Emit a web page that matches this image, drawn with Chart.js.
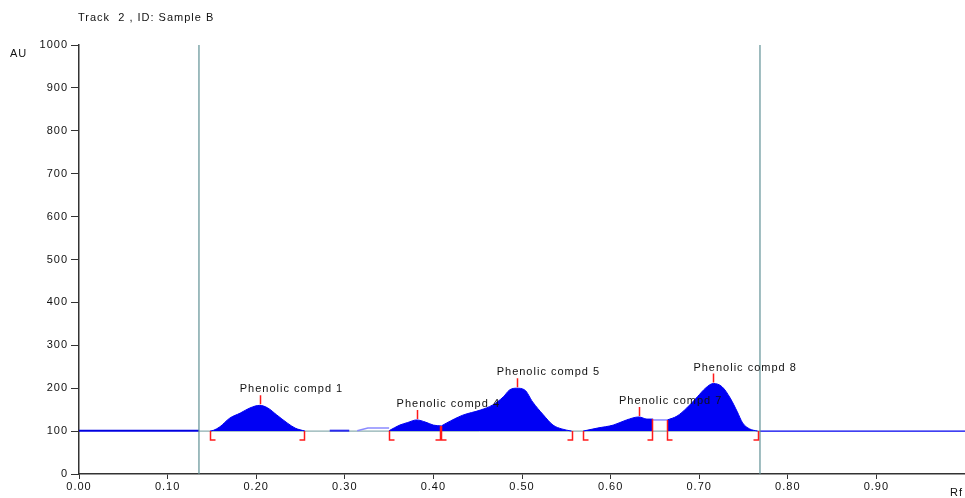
<!DOCTYPE html>
<html>
<head>
<meta charset="utf-8">
<script src="https://cdn.jsdelivr.net/npm/chart.js@4/dist/chart.umd.min.js"></script>
<style>
  html, body { margin: 0; padding: 0; background: #fff; }
  #wrap { width: 965px; height: 498px; }
</style>
</head>
<body>
<div id="wrap"><canvas id="scan" width="965" height="498"></canvas></div>
<script>
const TITLE = "Track  2 , ID: Sample B";
const BASE_AU = 100;

// densitogram traces (Rf, AU)
const leadRf = [0, 0.1354];
const leadAU = [101, 101];
const tailRf = [0.7686, 1.0];
const tailAU = [100, 100];

const peak1Rf = [0.148, 0.152, 0.159, 0.170, 0.182, 0.193, 0.204, 0.213, 0.223, 0.235, 0.244, 0.255];
const peak1AU = [100, 102, 110, 130, 142, 154, 160, 154, 138, 119, 107, 100];

const gapRf = [0.283, 0.305];
const gapAU = [101, 101];
const shoulderRf = [0.314, 0.326, 0.350];
const shoulderAU = [101, 107, 107];

const peak4Rf = [0.350, 0.362, 0.371, 0.381, 0.391, 0.400, 0.409];
const peak4AU = [101, 114, 120, 126, 121, 114, 112];

const peak5Rf = [0.409, 0.415, 0.433, 0.453, 0.467, 0.479, 0.486, 0.494, 0.503, 0.512, 0.524, 0.535, 0.545, 0.556];
const peak5AU = [112, 119, 137, 149, 161, 180, 196, 200, 196, 168, 138, 114, 105, 100];

const peak7Rf = [0.569, 0.585, 0.603, 0.618, 0.632, 0.641, 0.648];
const peak7AU = [100, 107, 114, 126, 133, 128, 128];

const bridgeRf = [0.648, 0.664];
const bridgeAU = [126, 126];

const peak8Rf = [0.664, 0.675, 0.686, 0.698, 0.707, 0.716, 0.726, 0.735, 0.743, 0.749, 0.757, 0.766];
const peak8AU = [126, 135, 154, 180, 200, 211, 203, 177, 145, 119, 105, 100];

// start / end of integration window
const windowRf = [0.1354, 0.7686];

// peak annotations
const peakLabels = ["Phenolic compd 1", "Phenolic compd 4", "Phenolic compd 5", "Phenolic compd 7", "Phenolic compd 8"];
const apexRf = [0.204, 0.381, 0.494, 0.632, 0.716];
const apexAU = [160, 126, 200, 133, 211];
const startRf = [0.148, 0.350, 0.409, 0.569, 0.664];
const startAU = [100, 101, 112, 100, 126];
const endRf = [0.255, 0.409, 0.557, 0.648, 0.7675];
const endAU = [100, 112, 100, 128, 100];

const xTicks = [0, 0.1, 0.2, 0.3, 0.4, 0.5, 0.6, 0.7, 0.8, 0.9];

const pts = (xs, ys) => xs.map((x, i) => ({ x, y: ys[i] }));

const trace = (xs, ys, color, width, order) => ({
  data: pts(xs, ys),
  borderColor: color,
  borderWidth: width,
  pointRadius: 0,
  fill: false,
  order
});

const peak = (xs, ys) => ({
  data: pts(xs, ys),
  borderColor: "#0000f4",
  backgroundColor: "#0000f4",
  borderWidth: 1,
  pointRadius: 0,
  cubicInterpolationMode: "monotone",
  fill: { value: BASE_AU },
  order: 1
});

const datasets = [
  trace([windowRf[0], windowRf[1]], [BASE_AU, BASE_AU], "#6f9a9c", 1, 5),
  trace(leadRf, leadAU, "#0000e0", 2, 2),
  trace(tailRf, tailAU, "#0000ee", 1.3, 2),
  trace(gapRf, gapAU, "#2a2af0", 2, 2),
  trace(shoulderRf, shoulderAU, "#8a8aff", 1.5, 2),
  trace(bridgeRf, bridgeAU, "#8a8aff", 1.5, 2),
  peak(peak1Rf, peak1AU),
  peak(peak4Rf, peak4AU),
  peak(peak5Rf, peak5AU),
  peak(peak7Rf, peak7AU),
  peak(peak8Rf, peak8AU),
  trace([windowRf[0], windowRf[0]], [0, 1000], "#5f9095", 1.2, 0),
  trace([windowRf[1], windowRf[1]], [0, 1000], "#5f9095", 1.2, 0)
];

const FONT = '"Liberation Sans", Arial, sans-serif';

const markers = {
  id: "markers",
  beforeDraw(chart) {
    chart.ctx.letterSpacing = "1px";
  },
  afterDatasetsDraw(chart) {
    const { ctx } = chart;
    const xs = chart.scales.x;
    const ys = chart.scales.y;
    const baseY = ys.getPixelForValue(BASE_AU);
    ctx.save();
    ctx.strokeStyle = "#ff1a1a";
    ctx.lineWidth = 1.5;
    ctx.beginPath();
    apexRf.forEach((rf, i) => {
      const px = Math.round(xs.getPixelForValue(rf)) + 0.5;
      const py = ys.getPixelForValue(apexAU[i]);
      ctx.moveTo(px, py - 1);
      ctx.lineTo(px, py - 10);
    });
    startRf.forEach((rf, i) => {
      const px = Math.round(xs.getPixelForValue(rf)) + 0.5;
      ctx.moveTo(px, ys.getPixelForValue(startAU[i]));
      ctx.lineTo(px, baseY + 9);
      ctx.lineTo(px + 5, baseY + 9);
    });
    endRf.forEach((rf, i) => {
      const px = Math.round(xs.getPixelForValue(rf)) - 0.5;
      ctx.moveTo(px, ys.getPixelForValue(endAU[i]));
      ctx.lineTo(px, baseY + 9);
      ctx.lineTo(px - 5, baseY + 9);
    });
    ctx.stroke();

    ctx.fillStyle = "#111";
    ctx.font = "11px " + FONT;
    ctx.letterSpacing = "1px";
    ctx.textBaseline = "middle";
    ctx.textAlign = "left";
    peakLabels.forEach((txt, i) => {
      const px = xs.getPixelForValue(apexRf[i]);
      const py = ys.getPixelForValue(apexAU[i]);
      ctx.fillText(txt, px - 20, py - 16);
    });

    ctx.fillText(TITLE, 78, 18);
    ctx.fillText("AU", 10, 54);
    ctx.fillText("Rf", 950, 493);
    ctx.restore();
  }
};

new Chart(document.getElementById("scan"), {
  type: "line",
  data: { datasets },
  plugins: [markers],
  options: {
    responsive: false,
    animation: false,
    events: [],
    layout: { padding: { top: 45, right: 0, left: 0, bottom: 0 } },
    plugins: { legend: { display: false }, tooltip: { enabled: false } },
    scales: {
      x: {
        type: "linear",
        min: 0,
        max: 1,
        afterBuildTicks: (scale) => {
          scale.ticks = xTicks.map((v) => ({ value: v }));
        },
        afterFit: (scale) => { scale.height = 24; },
        ticks: {
          autoSkip: false,
          maxRotation: 0,
          padding: 1,
          color: "#111",
          font: { family: FONT, size: 11 },
          callback: (v) => Number(v).toFixed(2)
        },
        grid: { drawOnChartArea: false, tickLength: 5, color: "#333" },
        border: { color: "#333", width: 1.5 }
      },
      y: {
        min: 0,
        max: 1000,
        afterFit: (scale) => { scale.width = 79; },
        ticks: {
          stepSize: 100,
          padding: 3,
          color: "#111",
          font: { family: FONT, size: 11 },
          callback: (v) => String(v)
        },
        grid: { drawOnChartArea: false, tickLength: 8, color: "#333" },
        border: { color: "#333", width: 1.5 }
      }
    }
  }
});
</script>
</body>
</html>
